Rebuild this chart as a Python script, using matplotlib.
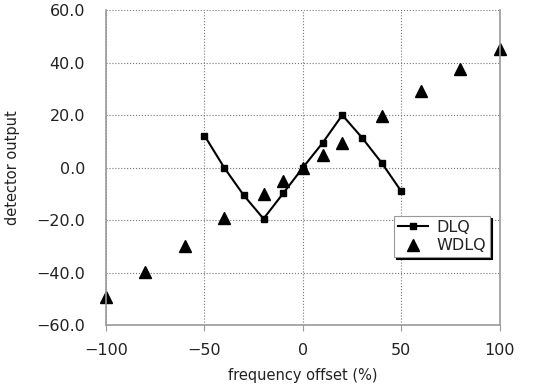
import numpy as np
import matplotlib
matplotlib.use("Agg")
import matplotlib.pyplot as plt

plt.rcParams['font.family'] = ['DejaVu Sans']

dlq_x = [-50, -40, -30, -20, -10, 0, 10, 20, 30, 40, 50]
dlq_y = [12.2, 0.0, -10.6, -19.5, -9.8, 0.0, 9.4, 20.0, 11.4, 1.8, -9.1]

wdlq_x = [-100, -80, -60, -40, -20, -10, 0, 10, 20, 40, 60, 80, 100]
wdlq_y = [-49.3, -39.8, -29.9, -19.3, -10.0, -5.3, 0.0, 4.8, 9.4, 19.8, 29.3, 37.7, 45.0]

xticks = [-100, -50, 0, 50, 100]
yticks = [-60, -40, -20, 0, 20, 40, 60]

fig = plt.figure(figsize=(5.34, 3.87), dpi=100)
ax = fig.add_axes([0.1985, 0.160, 0.7375, 0.814])

ax.plot(dlq_x, dlq_y, color='black', lw=1.5, marker='s', ms=5, label='DLQ')
ax.plot(wdlq_x, wdlq_y, ls='none', color='black', marker='^', ms=8, label='WDLQ', clip_on=False)

ax.set_xlim(-100, 100)
ax.set_ylim(-60, 60)
ax.set_xticks(xticks)
ax.set_yticks(yticks)
ax.set_xticklabels([str(t).replace('-', '\u2212') for t in xticks])
ax.set_yticklabels([('%.1f' % t).replace('-', '\u2212') for t in yticks])
ax.grid(True, color='#777777', ls=':', lw=0.8)
for s in ['left', 'right', 'bottom']:
    ax.spines[s].set_color('#999999')
    ax.spines[s].set_linewidth(1.2)
ax.spines['top'].set_visible(False)
ax.tick_params(axis='both', labelsize=11.5, color='#999999', labelcolor='#222222')
ax.tick_params(axis='x', length=4, pad=9)
ax.tick_params(axis='y', length=0, pad=15)

ax.set_xlabel('frequency offset (%)', fontsize=10.5, labelpad=7, color='#222222')
ax.set_ylabel('detector output', fontsize=10.5, labelpad=12, color='#222222')

leg = ax.legend(loc='lower right', bbox_to_anchor=(0.995, 0.19), fontsize=11.5,
                fancybox=False, shadow={'color': 'black', 'alpha': 1, 'ox': 1.6, 'oy': -1.6},
                framealpha=1, edgecolor='#999999',
                borderpad=0.25, handlelength=1.9, handletextpad=0.5, labelspacing=0.2)
leg.get_frame().set_linewidth(0.8)
for t in leg.get_texts():
    t.set_color('#222222')

plt.savefig("out.png", dpi=100)
